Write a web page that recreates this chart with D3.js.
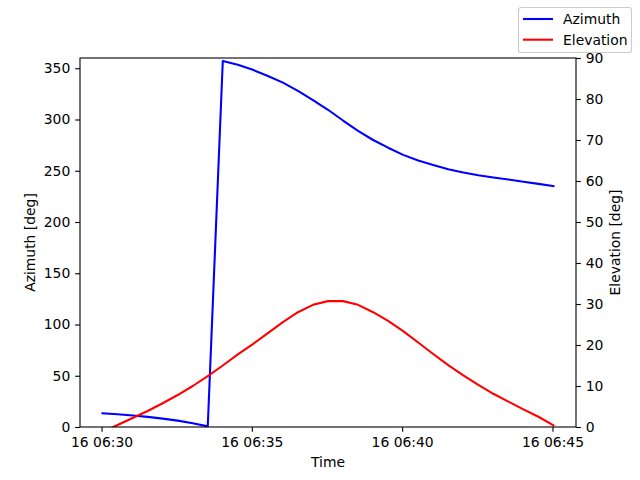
<!DOCTYPE html>
<html>
<head>
<meta charset="utf-8">
<script src="https://cdn.jsdelivr.net/npm/d3@7"></script>
<style>
  html, body { margin: 0; padding: 0; background: #fff; }
  svg text { font-family: "DejaVu Sans", sans-serif; font-size: 13.9px; fill: #000; }
</style>
</head>
<body>
<svg id="chart" width="640" height="480"></svg>
<script>
// ---- data ----
const times = [
  "06:30:02","06:30:32","06:31:02","06:31:32","06:32:02","06:32:32","06:33:02","06:33:32",
  "06:34:02","06:34:32","06:35:02","06:35:32","06:36:02","06:36:32","06:37:02","06:37:32",
  "06:38:02","06:38:32","06:39:02","06:39:32","06:40:02","06:40:32","06:41:02","06:41:32",
  "06:42:02","06:42:32","06:43:02","06:43:32","06:44:02","06:44:32","06:45:02"
];
const azimuth = [
  13.5, 12.5, 11.3, 9.9, 8.2, 6.2, 3.7, 0.6,
  357.0, 353.5, 348.5, 342.5, 336.0, 328.0, 319.0, 309.5,
  299.0, 289.0, 280.0, 272.5, 265.5, 260.0, 255.5, 251.5,
  248.3, 245.7, 243.5, 241.5, 239.2, 237.2, 235.0
];
const elevation = [
  -1.2, 0.5, 2.2, 3.9, 5.8, 7.8, 10.0, 12.4,
  15.0, 17.7, 20.2, 22.9, 25.6, 28.0, 29.8, 30.7,
  30.7, 29.8, 28.0, 25.9, 23.4, 20.6, 17.8, 15.1,
  12.6, 10.3, 8.1, 6.2, 4.3, 2.5, 0.4
];
const azTicks = [0, 50, 100, 150, 200, 250, 300, 350];
const elTicks = [0, 10, 20, 30, 40, 50, 60, 70, 80, 90];
const timeTicks = ["06:30:00", "06:35:00", "06:40:00", "06:45:00"];
const seriesNames = ["Azimuth", "Elevation"];
const seriesColors = ["#0000ff", "#ff0000"];

// ---- layout ----
const svg = d3.select("#chart");
const L = 80, R = 576, T = 58, B = 427;
const parse = s => new Date(2024, 0, 16, +s.slice(0,2), +s.slice(3,5), +s.slice(6,8));
const tDates = times.map(parse);
const ext = d3.extent(tDates);
const pad = (ext[1] - ext[0]) * 0.05;
const x = d3.scaleTime().domain([new Date(+ext[0] - pad), new Date(+ext[1] + pad)]).range([L, R]);
const yA = d3.scaleLinear().domain([0, 360]).range([B, T]);
const yE = d3.scaleLinear().domain([0, 90]).range([B, T]);

svg.append("defs").append("clipPath").attr("id", "clip")
  .append("rect").attr("x", L).attr("y", T).attr("width", R - L).attr("height", B - T);

const fmt = d3.timeFormat("%d %H:%M");

// lines
const azData = tDates.map((d, i) => [d, azimuth[i]]);
const elData = tDates.map((d, i) => [d, elevation[i]]);
const g = svg.append("g").attr("clip-path", "url(#clip)");
g.append("path").datum(azData)
  .attr("d", d3.line().x(d => x(d[0])).y(d => yA(d[1])))
  .attr("fill", "none").attr("stroke", seriesColors[0]).attr("stroke-width", 2.08)
  .attr("stroke-linejoin", "round").attr("stroke-linecap", "square");
g.append("path").datum(elData)
  .attr("d", d3.line().x(d => x(d[0])).y(d => yE(d[1])))
  .attr("fill", "none").attr("stroke", seriesColors[1]).attr("stroke-width", 2.08)
  .attr("stroke-linejoin", "round").attr("stroke-linecap", "square");

// axes
const tickLen = 4.86;
const styleAxis = sel => {
  sel.select(".domain").remove();
  sel.selectAll(".tick line").attr("stroke", "#000").attr("stroke-width", 1.1);
  sel.selectAll(".tick text").attr("fill", "#000").style("font-size", "13.9px")
     .style("font-family", "'DejaVu Sans', sans-serif");
};
svg.append("g").attr("transform", `translate(0,${B})`)
  .call(d3.axisBottom(x).tickValues(timeTicks.map(parse)).tickFormat(fmt).tickSize(tickLen).tickPadding(4.86))
  .call(styleAxis);
svg.append("g").attr("transform", `translate(${L},0)`)
  .call(d3.axisLeft(yA).tickValues(azTicks).tickSize(tickLen).tickPadding(4.86))
  .call(styleAxis);
svg.append("g").attr("transform", `translate(${R},0)`)
  .call(d3.axisRight(yE).tickValues(elTicks).tickSize(tickLen).tickPadding(4.86))
  .call(styleAxis);

// spines
svg.append("rect").attr("x", L).attr("y", T).attr("width", R - L).attr("height", B - T)
  .attr("fill", "none").attr("stroke", "#000").attr("stroke-width", 1.1);

// axis labels
svg.append("text").attr("x", (L + R) / 2).attr("y", 467).attr("text-anchor", "middle").text("Time");
svg.append("text").attr("transform", `translate(35,${(T + B) / 2}) rotate(-90)`)
  .attr("text-anchor", "middle").text("Azimuth [deg]");
svg.append("text").attr("transform", `translate(620,${(T + B) / 2}) rotate(-90)`)
  .attr("text-anchor", "middle").text("Elevation [deg]");

// legend
const lg = svg.append("g");
lg.append("rect").attr("x", 518.5).attr("y", 7.5).attr("width", 113).attr("height", 45)
  .attr("rx", 2.8).attr("fill", "#fff").attr("fill-opacity", 0.8)
  .attr("stroke", "#cccccc").attr("stroke-width", 1.1);
seriesNames.forEach((n, i) => {
  const yy = 19 + i * 20.7;
  lg.append("line").attr("x1", 523).attr("x2", 553).attr("y1", yy).attr("y2", yy)
    .attr("stroke", seriesColors[i]).attr("stroke-width", 2.08);
  lg.append("text").attr("x", 563).attr("y", yy + 5).text(n);
});
</script>
</body>
</html>
